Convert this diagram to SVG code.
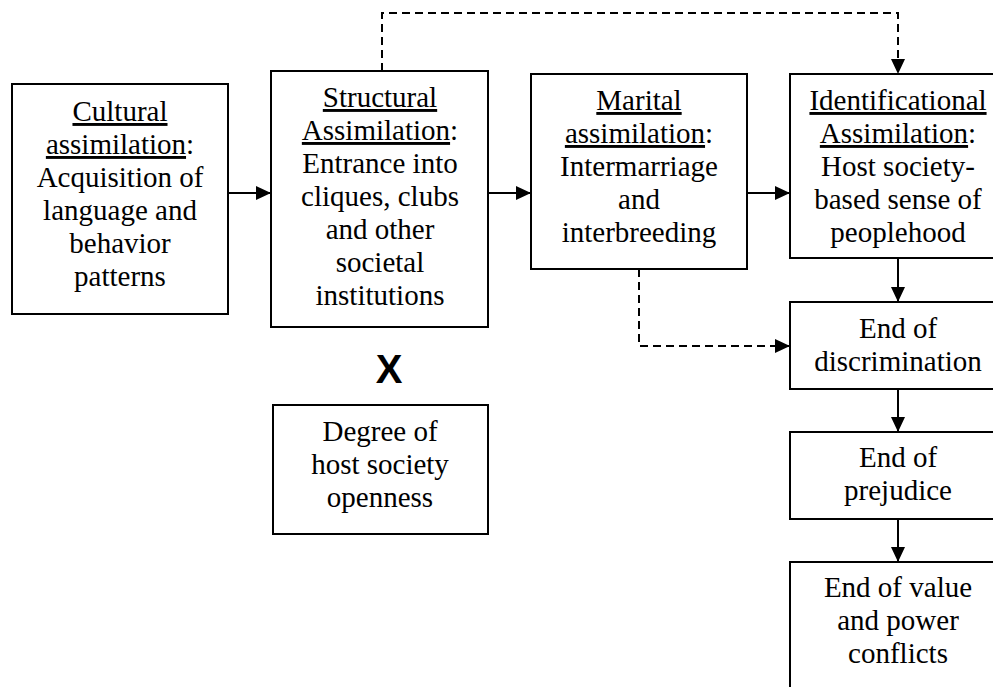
<svg xmlns="http://www.w3.org/2000/svg" width="993" height="687" viewBox="0 0 993 687">
<style>
  .box { fill: #ffffff; stroke: #000000; stroke-width: 2; }
  .t { font-family: "Liberation Serif", "Times New Roman", serif; font-size: 29px; fill: #000000; text-anchor: middle; }
  .u { text-decoration: underline; }
  .solid { fill: none; stroke: #000000; stroke-width: 2; }
  .dash { fill: none; stroke: #000000; stroke-width: 2; stroke-dasharray: 8 5; }
  .x { font-family: "Liberation Sans", Arial, sans-serif; font-size: 40px; font-weight: bold; fill: #000000; text-anchor: middle; }
</style>
<defs>
  <marker id="arrow" viewBox="0 0 15 14" refX="15" refY="7" markerWidth="15" markerHeight="14" markerUnits="userSpaceOnUse" orient="auto">
    <path d="M0,0 L15,7 L0,14 Z" fill="#000000"/>
  </marker>
</defs>
<rect x="0" y="0" width="993" height="687" fill="#ffffff"/>

<g id="connectors">
  <line class="solid" x1="228" y1="193" x2="271" y2="193" marker-end="url(#arrow)"/>
  <line class="solid" x1="488" y1="193" x2="531" y2="193" marker-end="url(#arrow)"/>
  <line class="solid" x1="747" y1="193" x2="790" y2="193" marker-end="url(#arrow)"/>
  <line class="solid" x1="898" y1="258" x2="898" y2="302" marker-end="url(#arrow)"/>
  <line class="solid" x1="898" y1="389" x2="898" y2="432" marker-end="url(#arrow)"/>
  <line class="solid" x1="898" y1="519" x2="898" y2="562" marker-end="url(#arrow)"/>
  <polyline class="dash" points="382,71 382,13 898,13 898,74" marker-end="url(#arrow)"/>
  <polyline class="dash" points="639,269 639,346 790,346" marker-end="url(#arrow)"/>
</g>

<g id="cultural">
  <rect class="box" x="12" y="84" width="216" height="230"/>
  <text class="t" x="120" y="121"><tspan class="u">Cultural</tspan></text>
  <text class="t" x="120" y="154"><tspan class="u">assimilation</tspan>:</text>
  <text class="t" x="120" y="187">Acquisition of</text>
  <text class="t" x="120" y="220">language and</text>
  <text class="t" x="120" y="253">behavior</text>
  <text class="t" x="120" y="286">patterns</text>
</g>

<g id="structural">
  <rect class="box" x="271" y="71" width="217" height="256"/>
  <text class="t" x="380" y="107"><tspan class="u">Structural</tspan></text>
  <text class="t" x="380" y="140"><tspan class="u">Assimilation</tspan>:</text>
  <text class="t" x="380" y="173">Entrance into</text>
  <text class="t" x="380" y="206">cliques, clubs</text>
  <text class="t" x="380" y="239">and other</text>
  <text class="t" x="380" y="272">societal</text>
  <text class="t" x="380" y="305">institutions</text>
</g>

<g id="marital">
  <rect class="box" x="531" y="74" width="216" height="195"/>
  <text class="t" x="639" y="110"><tspan class="u">Marital</tspan></text>
  <text class="t" x="639" y="143"><tspan class="u">assimilation</tspan>:</text>
  <text class="t" x="639" y="176">Intermarriage</text>
  <text class="t" x="639" y="209">and</text>
  <text class="t" x="639" y="242">interbreeding</text>
</g>

<g id="identificational">
  <rect class="box" x="790" y="74" width="216" height="184"/>
  <text class="t" x="898" y="110"><tspan class="u">Identificational</tspan></text>
  <text class="t" x="898" y="143"><tspan class="u">Assimilation</tspan>:</text>
  <text class="t" x="898" y="176">Host society-</text>
  <text class="t" x="898" y="209">based sense of</text>
  <text class="t" x="898" y="242">peoplehood</text>
</g>

<g id="discrimination">
  <rect class="box" x="790" y="302" width="216" height="87"/>
  <text class="t" x="898" y="338">End of</text>
  <text class="t" x="898" y="371">discrimination</text>
</g>

<g id="prejudice">
  <rect class="box" x="790" y="432" width="216" height="87"/>
  <text class="t" x="898" y="467">End of</text>
  <text class="t" x="898" y="500">prejudice</text>
</g>

<g id="conflicts">
  <rect class="box" x="790" y="562" width="216" height="140"/>
  <text class="t" x="898" y="597">End of value</text>
  <text class="t" x="898" y="630">and power</text>
  <text class="t" x="898" y="663">conflicts</text>
</g>

<g id="times">
  <text class="x" x="389" y="383">X</text>
</g>

<g id="openness">
  <rect class="box" x="273" y="405" width="215" height="129"/>
  <text class="t" x="380" y="441">Degree of</text>
  <text class="t" x="380" y="474">host society</text>
  <text class="t" x="380" y="507">openness</text>
</g>
</svg>
